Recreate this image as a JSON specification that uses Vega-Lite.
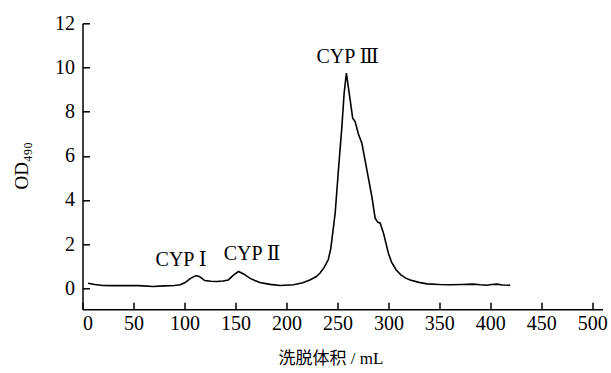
{
  "$schema": "https://vega.github.io/schema/vega-lite/v6.json",
  "width": 520,
  "height": 286,
  "autosize": "none",
  "padding": {"left": 82.5, "top": 23.3, "right": 8.5, "bottom": 63.7},
  "background": "white",
  "config": {
    "view": {"stroke": null},
    "font": "Liberation Serif",
    "axis": {
      "grid": false,
      "domainColor": "black",
      "domainWidth": 1.5,
      "tickColor": "black",
      "tickWidth": 1.5,
      "tickSize": -7,
      "labelColor": "black",
      "labelFont": "Liberation Serif",
      "labelFontSize": 20,
      "titleColor": "black",
      "titleFontWeight": "normal"
    }
  },
  "datasets": {
    "curve": [
      {"v": 5.5, "od": 0.23}, {"v": 12, "od": 0.17}, {"v": 20, "od": 0.13}, {"v": 30, "od": 0.12},
      {"v": 43, "od": 0.13}, {"v": 55, "od": 0.12}, {"v": 69.5, "od": 0.08}, {"v": 80, "od": 0.11},
      {"v": 90, "od": 0.13}, {"v": 96, "od": 0.16}, {"v": 100.6, "od": 0.26}, {"v": 106, "od": 0.45},
      {"v": 111.4, "od": 0.58}, {"v": 115, "od": 0.52}, {"v": 120, "od": 0.35}, {"v": 126, "od": 0.32},
      {"v": 131.7, "od": 0.31}, {"v": 138, "od": 0.33}, {"v": 143, "od": 0.38}, {"v": 148, "od": 0.6},
      {"v": 153, "od": 0.76}, {"v": 158, "od": 0.65}, {"v": 164, "od": 0.46}, {"v": 169, "od": 0.35},
      {"v": 174, "od": 0.26}, {"v": 184, "od": 0.18}, {"v": 194, "od": 0.13}, {"v": 207, "od": 0.16},
      {"v": 216, "od": 0.25}, {"v": 223, "od": 0.38}, {"v": 229, "od": 0.52}, {"v": 233, "od": 0.69},
      {"v": 237, "od": 0.95}, {"v": 241, "od": 1.29}, {"v": 243.5, "od": 1.8}, {"v": 247.8, "od": 3.4},
      {"v": 251, "od": 5.36}, {"v": 254.4, "od": 7.32}, {"v": 256.6, "od": 8.83}, {"v": 258.8, "od": 9.74},
      {"v": 262.5, "od": 8.53}, {"v": 265, "od": 7.7}, {"v": 267.4, "od": 7.55}, {"v": 270.5, "od": 7.0},
      {"v": 274, "od": 6.57}, {"v": 278.9, "od": 5.36}, {"v": 283.8, "od": 4.15}, {"v": 287, "od": 3.18},
      {"v": 289.5, "od": 3.0}, {"v": 292, "od": 2.95}, {"v": 295.2, "od": 2.5}, {"v": 300, "od": 1.59},
      {"v": 303, "od": 1.2}, {"v": 307.5, "od": 0.84}, {"v": 312, "od": 0.62}, {"v": 317, "od": 0.46},
      {"v": 321.4, "od": 0.38}, {"v": 330, "od": 0.27}, {"v": 337.8, "od": 0.2}, {"v": 350, "od": 0.17},
      {"v": 360.6, "od": 0.16}, {"v": 372, "od": 0.17}, {"v": 383.5, "od": 0.19}, {"v": 390, "od": 0.16},
      {"v": 396.7, "od": 0.14}, {"v": 401, "od": 0.17}, {"v": 406.5, "od": 0.19}, {"v": 412, "od": 0.15},
      {"v": 419.5, "od": 0.14}
    ],
    "labels": [
      {"v": 96.7, "od": 1.27, "text": "CYP Ⅰ"},
      {"v": 166.3, "od": 1.57, "text": "CYP Ⅱ"},
      {"v": 260, "od": 10.49, "text": "CYP Ⅲ"}
    ]
  },
  "layer": [
    {
      "data": {"name": "curve"},
      "mark": {"type": "line", "color": "black", "strokeWidth": 1.6, "clip": false},
      "encoding": {
        "x": {
          "field": "v", "type": "quantitative",
          "scale": {"domain": [0, 510], "nice": false, "zero": false},
          "axis": {
            "values": [0, 50, 100, 150, 200, 250, 300, 350, 400, 450, 500],
            "labelPadding": 11,
            "title": "洗脱体积 / mL",
            "titleFont": "Liberation Serif, Noto Sans CJK SC",
            "titleFontSize": 17,
            "titleX": 248,
            "titleY": 49,
            "titleBaseline": "middle",
            "titleAlign": "center",
            "titleAnchor": null
          }
        },
        "y": {
          "field": "od", "type": "quantitative",
          "scale": {"domain": [-0.95, 12], "nice": false, "zero": false},
          "axis": {
            "values": [0, 2, 4, 6, 8, 10, 12],
            "labelPadding": 15,
            "title": "OD₄₉₀",
            "titleFont": "Liberation Serif",
            "titleFontSize": 19,
            "titleX": -61,
            "titleY": 142,
            "titleBaseline": "middle",
            "titleAlign": "center",
            "titleAngle": -90,
            "titleAnchor": null
          }
        }
      }
    },
    {
      "data": {"name": "labels"},
      "mark": {"type": "text", "font": "Liberation Serif, DejaVu Serif", "fontSize": 20, "color": "black", "align": "center", "baseline": "middle"},
      "encoding": {
        "x": {"field": "v", "type": "quantitative"},
        "y": {"field": "od", "type": "quantitative"},
        "text": {"field": "text"}
      }
    }
  ]
}
